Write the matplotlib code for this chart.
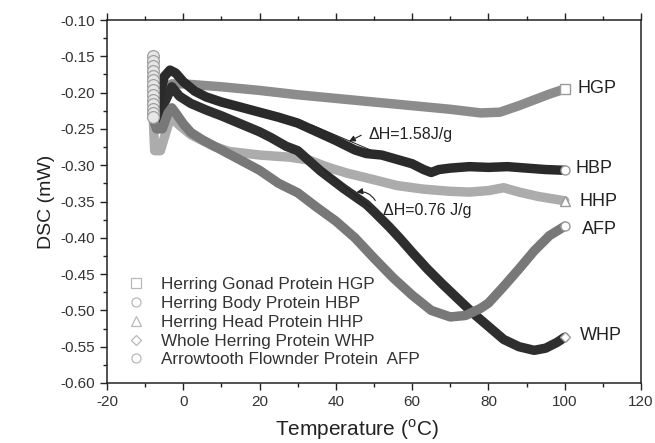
import matplotlib
matplotlib.use("Agg")
import matplotlib.pyplot as plt
from matplotlib.lines import Line2D

plt.rcParams['font.family'] = ['Liberation Sans', 'DejaVu Sans']
plt.rcParams['mathtext.fontset'] = 'custom'
plt.rcParams['mathtext.rm'] = 'Liberation Sans'
plt.rcParams['axes.unicode_minus'] = False

# ---------------- data ----------------
hgp_x = [-5, -4, -3, 0, 5, 10, 20, 30, 40, 50, 60, 70, 78, 83, 88, 92, 96, 100]
hgp_y = [-0.198, -0.191, -0.188, -0.188, -0.190, -0.192, -0.197, -0.203, -0.208, -0.213,
         -0.218, -0.223, -0.228, -0.227, -0.218, -0.210, -0.202, -0.195]

hbp_x = [-7, -6, -5, -3.5, -2, 0, 3, 6, 10, 15, 20, 25, 30, 35, 40, 45, 48, 52, 56, 60,
         63, 65, 67, 70, 75, 80, 85, 90, 95, 100]
hbp_y = [-0.225, -0.200, -0.178, -0.169, -0.173, -0.185, -0.198, -0.206, -0.213, -0.220,
         -0.227, -0.234, -0.242, -0.254, -0.266, -0.279, -0.284, -0.286, -0.292, -0.298,
         -0.306, -0.310, -0.306, -0.304, -0.302, -0.303, -0.302, -0.304, -0.306, -0.307]

hhp_x = [-8, -7.5, -6, -4, -3, -1, 2, 5, 8, 12, 20, 28, 33, 38, 43, 50, 56, 63, 70, 75,
         80, 84, 88, 93, 100]
hhp_y = [-0.220, -0.280, -0.280, -0.245, -0.235, -0.245, -0.258, -0.266, -0.274, -0.281,
         -0.286, -0.289, -0.293, -0.303, -0.311, -0.320, -0.328, -0.333, -0.336, -0.337,
         -0.335, -0.331, -0.337, -0.343, -0.349]

whp_x = [-6.5, -5, -3, -1, 2, 6, 10, 15, 20, 23, 27, 30, 33, 36, 39, 42, 45, 48, 50, 54,
         57, 60, 64, 68, 72, 76, 80, 84, 88, 92, 95, 98, 100]
whp_y = [-0.247, -0.215, -0.192, -0.205, -0.215, -0.224, -0.232, -0.243, -0.254, -0.262,
         -0.274, -0.280, -0.294, -0.308, -0.320, -0.332, -0.343, -0.354, -0.364, -0.385,
         -0.402, -0.420, -0.443, -0.464, -0.484, -0.504, -0.522, -0.540, -0.550, -0.555,
         -0.552, -0.544, -0.537]

afp_x = [-8, -7, -5.5, -4, -3, -2, 0, 2, 5, 10, 15, 20, 25, 30, 35, 40, 45, 50, 55, 60,
         65, 70, 74, 78, 80, 84, 88, 92, 96, 100]
afp_y = [-0.235, -0.250, -0.250, -0.228, -0.221, -0.228, -0.243, -0.255, -0.265, -0.279,
         -0.293, -0.307, -0.325, -0.338, -0.358, -0.377, -0.400, -0.428, -0.455, -0.479,
         -0.500, -0.509, -0.507, -0.497, -0.490, -0.467, -0.443, -0.418, -0.397, -0.384]

# stacked hollow circles of the AFP start (vertical spike)
afp_spike_x = [-8.0] * 14
afp_spike_y = [-0.150, -0.157, -0.163, -0.170, -0.177, -0.183, -0.190, -0.197,
               -0.203, -0.210, -0.216, -0.222, -0.228, -0.234]

series_names = ['HGP', 'HBP', 'HHP', 'WHP', 'AFP']
legend_labels = ['Herring Gonad Protein HGP', 'Herring Body Protein HBP',
                 'Herring Head Protein HHP', 'Whole Herring Protein WHP',
                 'Arrowtooth Flownder Protein  AFP']
end_labels_y = [-0.194, -0.304, -0.350, -0.534, -0.388]
end_labels_x = [103.4, 102.8, 103.9, 104.1, 104.4]

# ---------------- figure ----------------
fig = plt.figure(figsize=(6.55, 4.43), dpi=100)
ax = fig.add_axes([107/655, 60/443, 534/655, 363/443])

styles = {
    'HHP': dict(color='#acacac', marker='^'),
    'HGP': dict(color='#8c8c8c', marker='s'),
    'WHP': dict(color='#2e2e2e', marker='D'),
    'AFP': dict(color='#787878', marker='o'),
    'HBP': dict(color='#2a2a2a', marker='o'),
}
data = {
    'HGP': (hgp_x, hgp_y), 'HBP': (hbp_x, hbp_y), 'HHP': (hhp_x, hhp_y),
    'WHP': (whp_x, whp_y), 'AFP': (afp_x, afp_y),
}
draw_order = ['HHP', 'HGP', 'WHP', 'AFP', 'HBP']
lw = 6.8
for name in draw_order:
    xs, ys = data[name]
    st = styles[name]
    ax.plot(xs, ys, color=st['color'], lw=lw, solid_capstyle='round',
            solid_joinstyle='round', zorder=2)

# end markers
for name in series_names:
    xs, ys = data[name]
    st = styles[name]
    ms = 5.5 if st['marker'] == 'D' else 6.5
    ax.plot(xs[-1], ys[-1], ls='none', marker=st['marker'], ms=ms,
            mfc='white', mec='#9a9a9a', mew=1.0, zorder=4)

# AFP spike circles
ax.plot(afp_spike_x, afp_spike_y, ls='none', marker='o', ms=8.5, mfc='#e6e6e6',
        mec='#a0a0a0', mew=0.9, zorder=5)

# right labels
for name, lx, ly in zip(series_names, end_labels_x, end_labels_y):
    ax.text(lx, ly, name, fontsize=13, color='#222222', ha='left', va='center')

# annotations
ax.plot([33.7, 49.1], [-0.2446, -0.279], color='#222222', lw=0.7, zorder=6)
ax.plot([36.3, 49.1], [-0.304, -0.358], color='#222222', lw=0.7, zorder=6)
ax.annotate('', xy=(42.8, -0.269), xytext=(47.3, -0.257),
            arrowprops=dict(arrowstyle='-|>', color='#222222', lw=0.8,
                            mutation_scale=9), zorder=6)
ax.annotate('', xy=(44.7, -0.338), xytext=(50.7, -0.352),
            arrowprops=dict(arrowstyle='-|>', color='#222222', lw=0.8,
                            mutation_scale=9, connectionstyle='arc3,rad=0.4'),
            zorder=6)
ax.text(48.6, -0.258, 'ΔH=1.58J/g', fontsize=11.5, color='#222222', va='center')
ax.text(52.3, -0.362, 'ΔH=0.76 J/g', fontsize=11.5, color='#222222', va='center')

# legend
handles = [Line2D([], [], ls='none', marker=m, ms=ms, mfc='none', mec='#b8b8b8', mew=0.9)
           for m, ms in zip(['s', 'o', '^', 'D', 'o'], [6.5, 6.5, 6.5, 5.5, 6.5])]
ax.legend(handles, legend_labels, loc='upper left', bbox_to_anchor=(0.022, 0.31),
          frameon=False, fontsize=12.3, labelspacing=0.22, handletextpad=0.9,
          handlelength=1.2, labelcolor='#333333', borderaxespad=0)

# axes formatting
ax.set_xlim(-20, 120)
ax.set_ylim(-0.60, -0.10)
ax.set_xticks(range(-20, 121, 20))
ax.set_xticks(range(-10, 121, 20), minor=True)
yt = [-0.60, -0.55, -0.50, -0.45, -0.40, -0.35, -0.30, -0.25, -0.20, -0.15, -0.10]
ax.set_yticks(yt)
ax.set_yticklabels(['%.2f' % v for v in yt])
ax.set_yticks([v - 0.025 for v in yt[1:]], minor=True)
ax.tick_params(which='both', direction='out', top=True, right=False,
               labeltop=False, colors='#222222', labelcolor='#333333',
               labelsize=11, width=1.0)
ax.tick_params(which='major', length=5)
ax.tick_params(which='minor', length=3)
for s in ax.spines.values():
    s.set_linewidth(1.1)
    s.set_color('#222222')

ax.set_xlabel(r'Temperature ($^{\rm o}$C)', fontsize=15, color='#222222')
ax.set_ylabel('DSC (mW)', fontsize=14, color='#222222')
ax.xaxis.set_label_coords(0.468, -0.095)

fig.savefig('out.png', dpi=100)
